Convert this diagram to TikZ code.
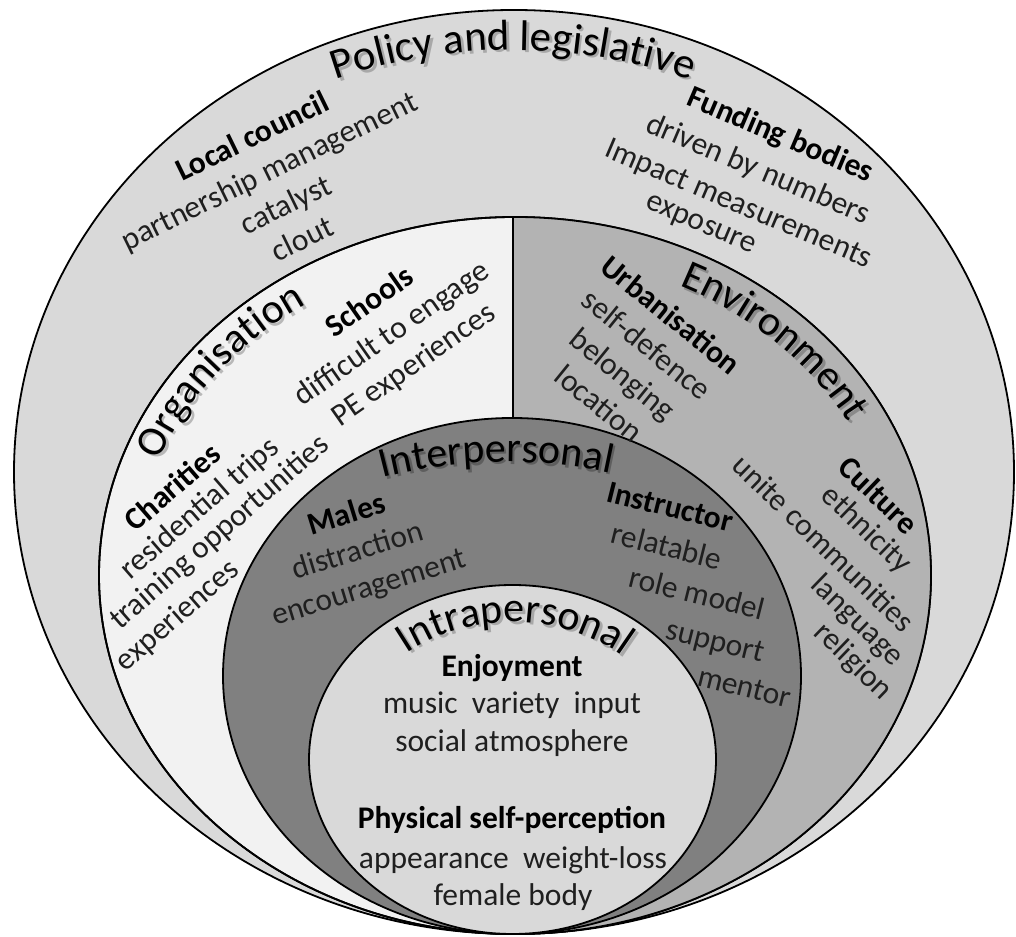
\documentclass[tikz,border=0pt]{standalone}
\usepackage{fontspec}
\setmainfont{Carlito}
\usetikzlibrary{decorations.text}

\definecolor{policyfill}{HTML}{D9D9D9}
\definecolor{orgfill}{HTML}{F2F2F2}
\definecolor{envfill}{HTML}{B3B3B3}
\definecolor{interfill}{HTML}{808080}
\definecolor{intrafill}{HTML}{D9D9D9}
\definecolor{inkgray}{HTML}{1F1F1F}
\definecolor{shadelight}{HTML}{A8A8A8}
\definecolor{shadeorg}{HTML}{B8B8B8}
\definecolor{shadeenv}{HTML}{8A8A8A}
\definecolor{shadedark}{HTML}{5E5E5E}

\newcommand\bodysize{\fontsize{31.5}{38}\selectfont}
\newcommand\headsize{\fontsize{42}{50}\selectfont}
\newcommand\titlesize{\fontsize{43}{50}\selectfont}

% curved level title with a drop shadow: #1 shadow colour, #2 font, #3 text, #4 path
\newcommand\curvelabel[4]{%
  \path[shift={(2.5,-2.5)}, decorate,
    decoration={text along path, text align=center, text color=#1,
      text={|#2|#3}}] #4;
  \path[decorate, decoration={text along path, text align=center,
      text color=black, text={|#2|#3}}] #4;
}

\tikzset{
  ring/.style={draw=black, line width=1.8pt},
  lbl/.style={font=\bodysize, text=inkgray, inner sep=0pt},
  hd/.style={font=\bodysize\bfseries, text=black, inner sep=0pt},
  blk/.style={lbl, align=center},
}

\begin{document}
\begin{tikzpicture}[x=1pt, y=1pt]
\useasboundingbox (0,0) rectangle (1016,936);
\fill[white] (0,0) rectangle (1016,936);

% policy and legislative level
\draw[ring, fill=policyfill] (514,464) ellipse[x radius=500pt, y radius=462pt];

% organisation (left) and environment (right) level
\draw[ring, fill=orgfill] (515,360.5) ellipse[x radius=416pt, y radius=358.5pt];
\begin{scope}
  \clip (513,0) rectangle (1016,936);
  \fill[envfill] (515,360.5) ellipse[x radius=416pt, y radius=358.5pt];
\end{scope}
\draw[ring] (515,360.5) ellipse[x radius=416pt, y radius=358.5pt];
\coordinate (splittop) at (513,719);
\coordinate (splitbot) at (513,518);
\draw[ring] (splittop) -- (splitbot);

% interpersonal level
\draw[ring, fill=interfill] (512,260) ellipse[x radius=289pt, y radius=258pt];

% intrapersonal level
\draw[ring, fill=intrafill] (512.5,176.5) ellipse[x radius=203.5pt, y radius=174.5pt];

% level titles
\curvelabel{shadelight}{\titlesize}{Policy and legislative}
  {([shift={(122:540pt)}]513,346) arc[start angle=122, end angle=58, radius=540pt]}
\curvelabel{shadeorg}{\headsize}{Organisation}
  {([shift={(174:381pt and 323.5pt)}]515,360.5) arc[start angle=174, end angle=110, x radius=381pt, y radius=323.5pt]}
\curvelabel{shadeenv}{\headsize}{Environment}
  {([shift={(77.5:379pt and 321.5pt)}]515,360.5) arc[start angle=77.5, end angle=13.5, x radius=379pt, y radius=321.5pt]}
\curvelabel{shadedark}{\headsize}{Interpersonal}
  {([shift={(121.2:491pt)}]506.5,-17) arc[start angle=121.2, end angle=61.2, radius=491pt]}
\curvelabel{shadelight}{\headsize}{Intrapersonal}
  {([shift={(140:166.5pt and 137.5pt)}]512.5,176.5) arc[start angle=140, end angle=38, x radius=166.5pt, y radius=137.5pt]}

% policy and legislative
\node[blk, rotate=26] (council) at (277,749)
  {\textbf{\color{black}Local council}\\partnership management\\catalyst\\clout};
\node[hd, rotate=-23] (funding) at (780,800) {Funding bodies};
\node[lbl, rotate=-23] (numbers) at (758,766) {driven by numbers};
\node[lbl, rotate=-23] (impact) at (738,731) {Impact measurements};
\node[lbl, rotate=-23] (exposure) at (700,710) {exposure};

% organisation
\node[blk, rotate=35] (schools) at (392,602)
  {\textbf{\color{black}Schools}\\difficult to engage\\PE experiences};
\node[hd, rotate=41] (charities) at (172,449) {Charities};
\node[lbl, rotate=41] (trips) at (200,427) {residential trips};
\node[lbl, rotate=41] (training) at (220,403) {training opportunities};
\node[lbl, rotate=41] (experiences) at (178,320) {experiences};

% environment
\node[blk, rotate=-39] (urban) at (635,577)
  {\textbf{\color{black}Urbanisation}\\self-defence\\belonging\\location};
\node[hd, rotate=-44] (culture) at (879,441) {Culture};
\node[lbl, rotate=-44] (ethnicity) at (866,406) {ethnicity};
\node[lbl, rotate=-44] (unite) at (824,393) {unite communities};
\node[lbl, rotate=-44] (language) at (857,315) {language};
\node[lbl, rotate=-44] (religion) at (853,274) {religion};

% interpersonal
\node[blk, rotate=17] (males) at (358,384)
  {\textbf{\color{black}Males}\\distraction\\encouragement};
\node[hd, rotate=-14] (instructor) at (670,429) {Instructor};
\node[lbl, rotate=-14] (relatable) at (667,390) {relatable};
\node[lbl, rotate=-14] (rolemodel) at (697,343) {role model};
\node[lbl, rotate=-14] (support) at (715,293) {support};
\node[lbl, rotate=-14] (mentor) at (744.5,249) {mentor};

% intrapersonal
\node[hd] (enjoy) at (512,268) {Enjoyment};
\node[lbl] (music) at (512,231) {music\ \ variety\ \ input};
\node[lbl] (social) at (512,193) {social atmosphere};
\node[hd] (physical) at (512,116) {Physical self-perception};
\node[lbl] (appearance) at (513,76) {appearance\ \ weight-loss};
\node[lbl] (female) at (513,39) {female body};
\end{tikzpicture}
\end{document}
